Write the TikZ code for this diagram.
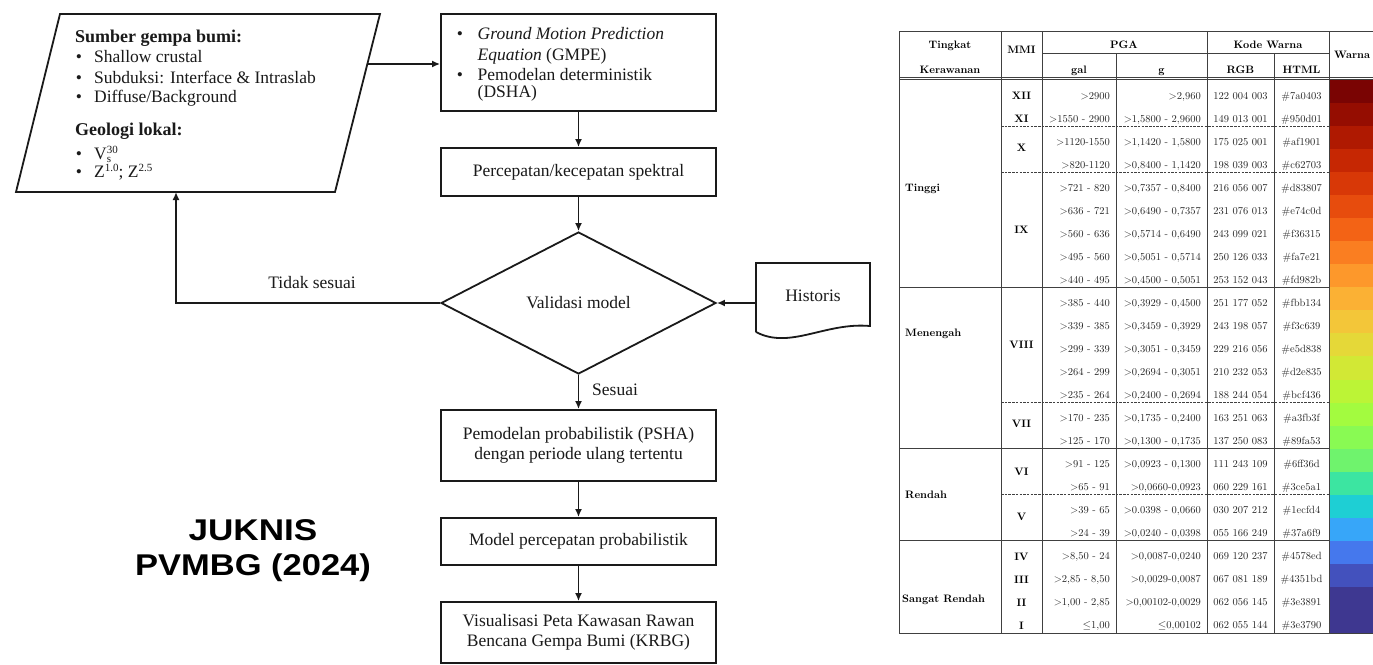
\documentclass[tikz,border=0pt]{standalone}
\usepackage{fontspec}
\usetikzlibrary{arrows.meta,shapes.geometric}
\newfontfamily\ffont{Liberation Serif}
\newfontfamily\jfont{Liberation Sans}
\definecolor{ink}{HTML}{1A1A1A}
\tikzset{
 flow/.style={line width=1.8pt, draw=ink},
 arr/.style={flow, -{Latex[length=8pt,width=7pt]}},
 box/.style={flow, rectangle, minimum width=275pt, inner sep=0pt, align=center, text=ink, font=\ffont\fontsize{17.5}{20}\selectfont},
 ftxt/.style={inner sep=0pt, font=\ffont\fontsize{17.5}{20}\selectfont, text=ink},
 fbold/.style={inner sep=0pt, font=\ffont\bfseries\fontsize{18}{20}\selectfont, text=ink},
 jk/.style={inner sep=0pt, font=\jfont\bfseries\fontsize{30}{34}\selectfont, text=black},
 tline/.style={line width=0.8pt, draw=black!75},
 tdash/.style={tline, dash pattern=on 2.5pt off 1.2pt},
 tt/.style={inner sep=0pt, font=\fontsize{10.5}{12}\selectfont, text=black!85},
 th/.style={inner sep=0pt, font=\bfseries\fontsize{10.8}{12}\selectfont, text=black},
}
\newcommand\trow[7]{%
  \pgfmathsetmacro\ytop{80+23.04*#1}%
  \pgfmathsetmacro\ybot{80+23.04*(#1+1)+0.3}%
  \pgfmathsetmacro\ybase{80+23.04*(#1+0.5)+7.5}%
  \fill[fill={rgb,255:red,#4;green,#5;blue,#6}] (1329.4,\ytop) rectangle (1373,\ybot);
  \node[tt, anchor=base east] (gal#1) at (1110,\ybase) {#2};
  \node[tt, anchor=base east] (g#1) at (1201,\ybase) {#3};
  \node[tt, anchor=base] (rgb#1) at (1240.5,\ybase) {#4 #5 #6};
  \node[tt, anchor=base] (html#1) at (1301.5,\ybase) {#7};
}
\begin{document}
\begin{tikzpicture}[x=1pt,y=-1pt]
\fill[white] (0,0) rectangle (1373,664);
\useasboundingbox (0,0) rectangle (1373,664);

% ---------- source parallelogram
\coordinate (p1) at (60,14); \coordinate (p2) at (380,14);
\coordinate (p3) at (335,192); \coordinate (p4) at (16,192);
\draw[flow, line join=miter] (p1)--(p2)--(p3)--(p4)--cycle;
\node[fbold, anchor=base west] (s0) at (75,42.5) {Sumber gempa bumi:};
\node[ftxt, anchor=base] (b1) at (79,62.5) {\textbullet};
\node[ftxt, anchor=base west] (s1) at (94,62.5) {Shallow crustal};
\node[ftxt, anchor=base] (b2) at (79,83) {\textbullet};
\node[ftxt, anchor=base west] (s2) at (94,83) {Subduksi: Interface \& Intraslab};
\node[ftxt, anchor=base] (b3) at (79,102.5) {\textbullet};
\node[ftxt, anchor=base west] (s3) at (94,102.5) {Diffuse/Background};
\node[fbold, anchor=base west] (s4) at (75,135) {Geologi lokal:};
\node[ftxt, anchor=base] (b4) at (79,159) {\textbullet};
\node[ftxt, anchor=base west] (s5) at (94,159) {V\rlap{\raisebox{-3pt}{\fontsize{11}{12}\selectfont s}}\raisebox{6pt}{\fontsize{11}{12}\selectfont 30}};
\node[ftxt, anchor=base] (b5) at (79,177.5) {\textbullet};
\node[ftxt, anchor=base west] (s6) at (94,177.5) {Z\raisebox{6pt}{\fontsize{11}{12}\selectfont 1.0}; Z\raisebox{6pt}{\fontsize{11}{12}\selectfont 2.5}};

% ---------- GMPE box
\node[box, minimum height=97pt] (gmpe) at (578.5,62.5) {};
\node[ftxt, anchor=base] (g1b) at (460,39) {\textbullet};
\node[ftxt, anchor=base west] (g1) at (477.5,39) {\itshape Ground Motion Prediction};
\node[ftxt, anchor=base west] (g2) at (477.5,60) {\textit{Equation} (GMPE)};
\node[ftxt, anchor=base] (g3b) at (460,80) {\textbullet};
\node[ftxt, anchor=base west] (g3) at (477.5,80) {Pemodelan deterministik};
\node[ftxt, anchor=base west] (g4) at (477.5,97.5) {(DSHA)};

\node[box, minimum height=48pt] (perc) at (578.5,172) {Percepatan/kecepatan spektral};
\node[flow, diamond, minimum width=275pt, minimum height=142pt, inner sep=0pt, text=ink,
      font=\ffont\fontsize{17.5}{20}\selectfont] (val) at (578.5,303) {Validasi model};
\node[box, minimum height=71pt] (psha) at (578.5,445.5) {Pemodelan probabilistik (PSHA)\\dengan periode ulang tertentu};
\node[box, minimum height=47pt] (model) at (578.5,541.5) {Model percepatan probabilistik};
\node[box, minimum height=61pt] (vis) at (578.5,632.5) {Visualisasi Peta Kawasan Rawan\\Bencana Gempa Bumi (KRBG)};

% ---------- Historis document
\coordinate (d1) at (756,332); \coordinate (d2) at (756,263);
\coordinate (d3) at (870,263); \coordinate (d4) at (870,326);
\draw[flow, line join=miter] (d1) -- (d2) -- (d3) -- (d4) .. controls (825,322) and (790,350) .. (d1);
\node[ftxt] (hist) at (813,296) {Historis};
\coordinate (hl) at (756,303);

% ---------- connectors
\coordinate (sr) at (367.4,64);
\draw[arr] (sr) -- (sr -| gmpe.west);
\draw[arr] (gmpe.south) -- (perc.north);
\draw[arr] (perc.south) -- (val.north);
\coordinate (pb) at (176,192);
\draw[arr] (val.west) -| (pb);
\node[ftxt] (tidak) at (312,283) {Tidak sesuai};
\draw[arr] (hl) -- (val.east);
\draw[arr] (val.south) -- (psha.north);
\node[ftxt, anchor=west] (ses) at (592,390) {Sesuai};
\draw[arr] (psha.south) -- (model.north);
\draw[arr] (model.south) -- (vis.north);

% ---------- JUKNIS
\node[jk, anchor=base] (j1) at (253,540) {\scalebox{1.17}[1]{JUKNIS}};
\node[jk, anchor=base] (j2) at (253,575) {\scalebox{1.15}[1]{PVMBG (2024)}};

% ---------- table rows
\trow{0}{>2900}{>2,960}{122}{004}{003}{\#7a0403}
\trow{1}{>1550 - 2900}{>1,5800 - 2,9600}{149}{013}{001}{\#950d01}
\trow{2}{>1120-1550}{>1,1420 - 1,5800}{175}{025}{001}{\#af1901}
\trow{3}{>820-1120}{>0,8400 - 1,1420}{198}{039}{003}{\#c62703}
\trow{4}{>721 - 820}{>0,7357 - 0,8400}{216}{056}{007}{\#d83807}
\trow{5}{>636 - 721}{>0,6490 - 0,7357}{231}{076}{013}{\#e74c0d}
\trow{6}{>560 - 636}{>0,5714 - 0,6490}{243}{099}{021}{\#f36315}
\trow{7}{>495 - 560}{>0,5051 - 0,5714}{250}{126}{033}{\#fa7e21}
\trow{8}{>440 - 495}{>0,4500 - 0,5051}{253}{152}{043}{\#fd982b}
\trow{9}{>385 - 440}{>0,3929 - 0,4500}{251}{177}{052}{\#fbb134}
\trow{10}{>339 - 385}{>0,3459 - 0,3929}{243}{198}{057}{\#f3c639}
\trow{11}{>299 - 339}{>0,3051 - 0,3459}{229}{216}{056}{\#e5d838}
\trow{12}{>264 - 299}{>0,2694 - 0,3051}{210}{232}{053}{\#d2e835}
\trow{13}{>235 - 264}{>0,2400 - 0,2694}{188}{244}{054}{\#bcf436}
\trow{14}{>170 - 235}{>0,1735 - 0,2400}{163}{251}{063}{\#a3fb3f}
\trow{15}{>125 - 170}{>0,1300 - 0,1735}{137}{250}{083}{\#89fa53}
\trow{16}{>91 - 125}{>0,0923 - 0,1300}{111}{243}{109}{\#6ff36d}
\trow{17}{>65 - 91}{>0,0660-0,0923}{060}{229}{161}{\#3ce5a1}
\trow{18}{>39 - 65}{>0.0398 - 0,0660}{030}{207}{212}{\#1ecfd4}
\trow{19}{>24 - 39}{>0,0240 - 0,0398}{055}{166}{249}{\#37a6f9}
\trow{20}{>8,50 - 24}{>0,0087-0,0240}{069}{120}{237}{\#4578ed}
\trow{21}{>2,85 - 8,50}{>0,0029-0,0087}{067}{081}{189}{\#4351bd}
\trow{22}{>1,00 - 2,85}{>0,00102-0,0029}{062}{056}{145}{\#3e3891}
\trow{23}{$\le$1,00}{$\le$0,00102}{062}{055}{144}{\#3e3790}

% ---------- table rules
\draw[tline] (899,31.7) -- (1373,31.7);
\draw[tline] (1042,53.5) -- (1329,53.5);
\draw[tline] (899,77) -- (1373,77);
\draw[tline] (899,79.5) -- (1373,79.5);
\foreach \x in {899,1001,1042,1207,1329} \draw[tline] (\x,31.7) -- (\x,633);
\foreach \x in {1116,1274} \draw[tline] (\x,53.5) -- (\x,633);
\draw[tline] (899,633) -- (1373,633);
\foreach \k in {9,16,20} \draw[tline] (899,{80+23.04*\k}) -- (1329,{80+23.04*\k});
\foreach \k in {2,4,14,18} \draw[tdash] (1001,{80+23.04*\k}) -- (1329,{80+23.04*\k});

% ---------- table header
\node[th, anchor=base] (h1a) at (950,48.5) {Tingkat};
\node[th, anchor=base] (h1b) at (950,73.5) {Kerawanan};
\node[th, anchor=base] (hmmi) at (1021.5,53.5) {MMI};
\node[th, anchor=base] (hpga) at (1124,48.5) {PGA};
\node[th, anchor=base] (hkw) at (1268,48.5) {Kode Warna};
\node[th, anchor=base west] (hw) at (1334,58) {Warna};
\node[th, anchor=base] (hgal) at (1079,73.5) {gal};
\node[th, anchor=base] (hg) at (1161.5,73.5) {g};
\node[th, anchor=base] (hrgb) at (1240.5,73.5) {RGB};
\node[th, anchor=base] (hhtml) at (1301.5,73.5) {HTML};

% ---------- MMI labels
\node[th, anchor=base] (m12) at (1021.5,99) {XII};
\node[th, anchor=base] (m11) at (1021.5,122) {XI};
\node[th, anchor=base] (m10) at (1021.5,151.7) {X};
\node[th, anchor=base] (m9) at (1021.5,233) {IX};
\node[th, anchor=base] (m8) at (1021.5,348.6) {VIII};
\node[th, anchor=base] (m7) at (1021.5,427.6) {VII};
\node[th, anchor=base] (m6) at (1021.5,475.3) {VI};
\node[th, anchor=base] (m5) at (1021.5,520.3) {V};
\node[th, anchor=base] (m4) at (1021.5,560.2) {IV};
\node[th, anchor=base] (m3) at (1021.5,583.2) {III};
\node[th, anchor=base] (m2) at (1021.5,606.3) {II};
\node[th, anchor=base] (m1) at (1021.5,629.3) {I};

% ---------- group labels
\node[th, anchor=base west] (gt) at (905,191.9) {Tinggi};
\node[th, anchor=base west] (gm) at (905,336.3) {Menengah};
\node[th, anchor=base west] (gr) at (905,498.6) {Rendah};
\node[th, anchor=base west] (gs) at (902,602) {Sangat Rendah};
\end{tikzpicture}
\end{document}
